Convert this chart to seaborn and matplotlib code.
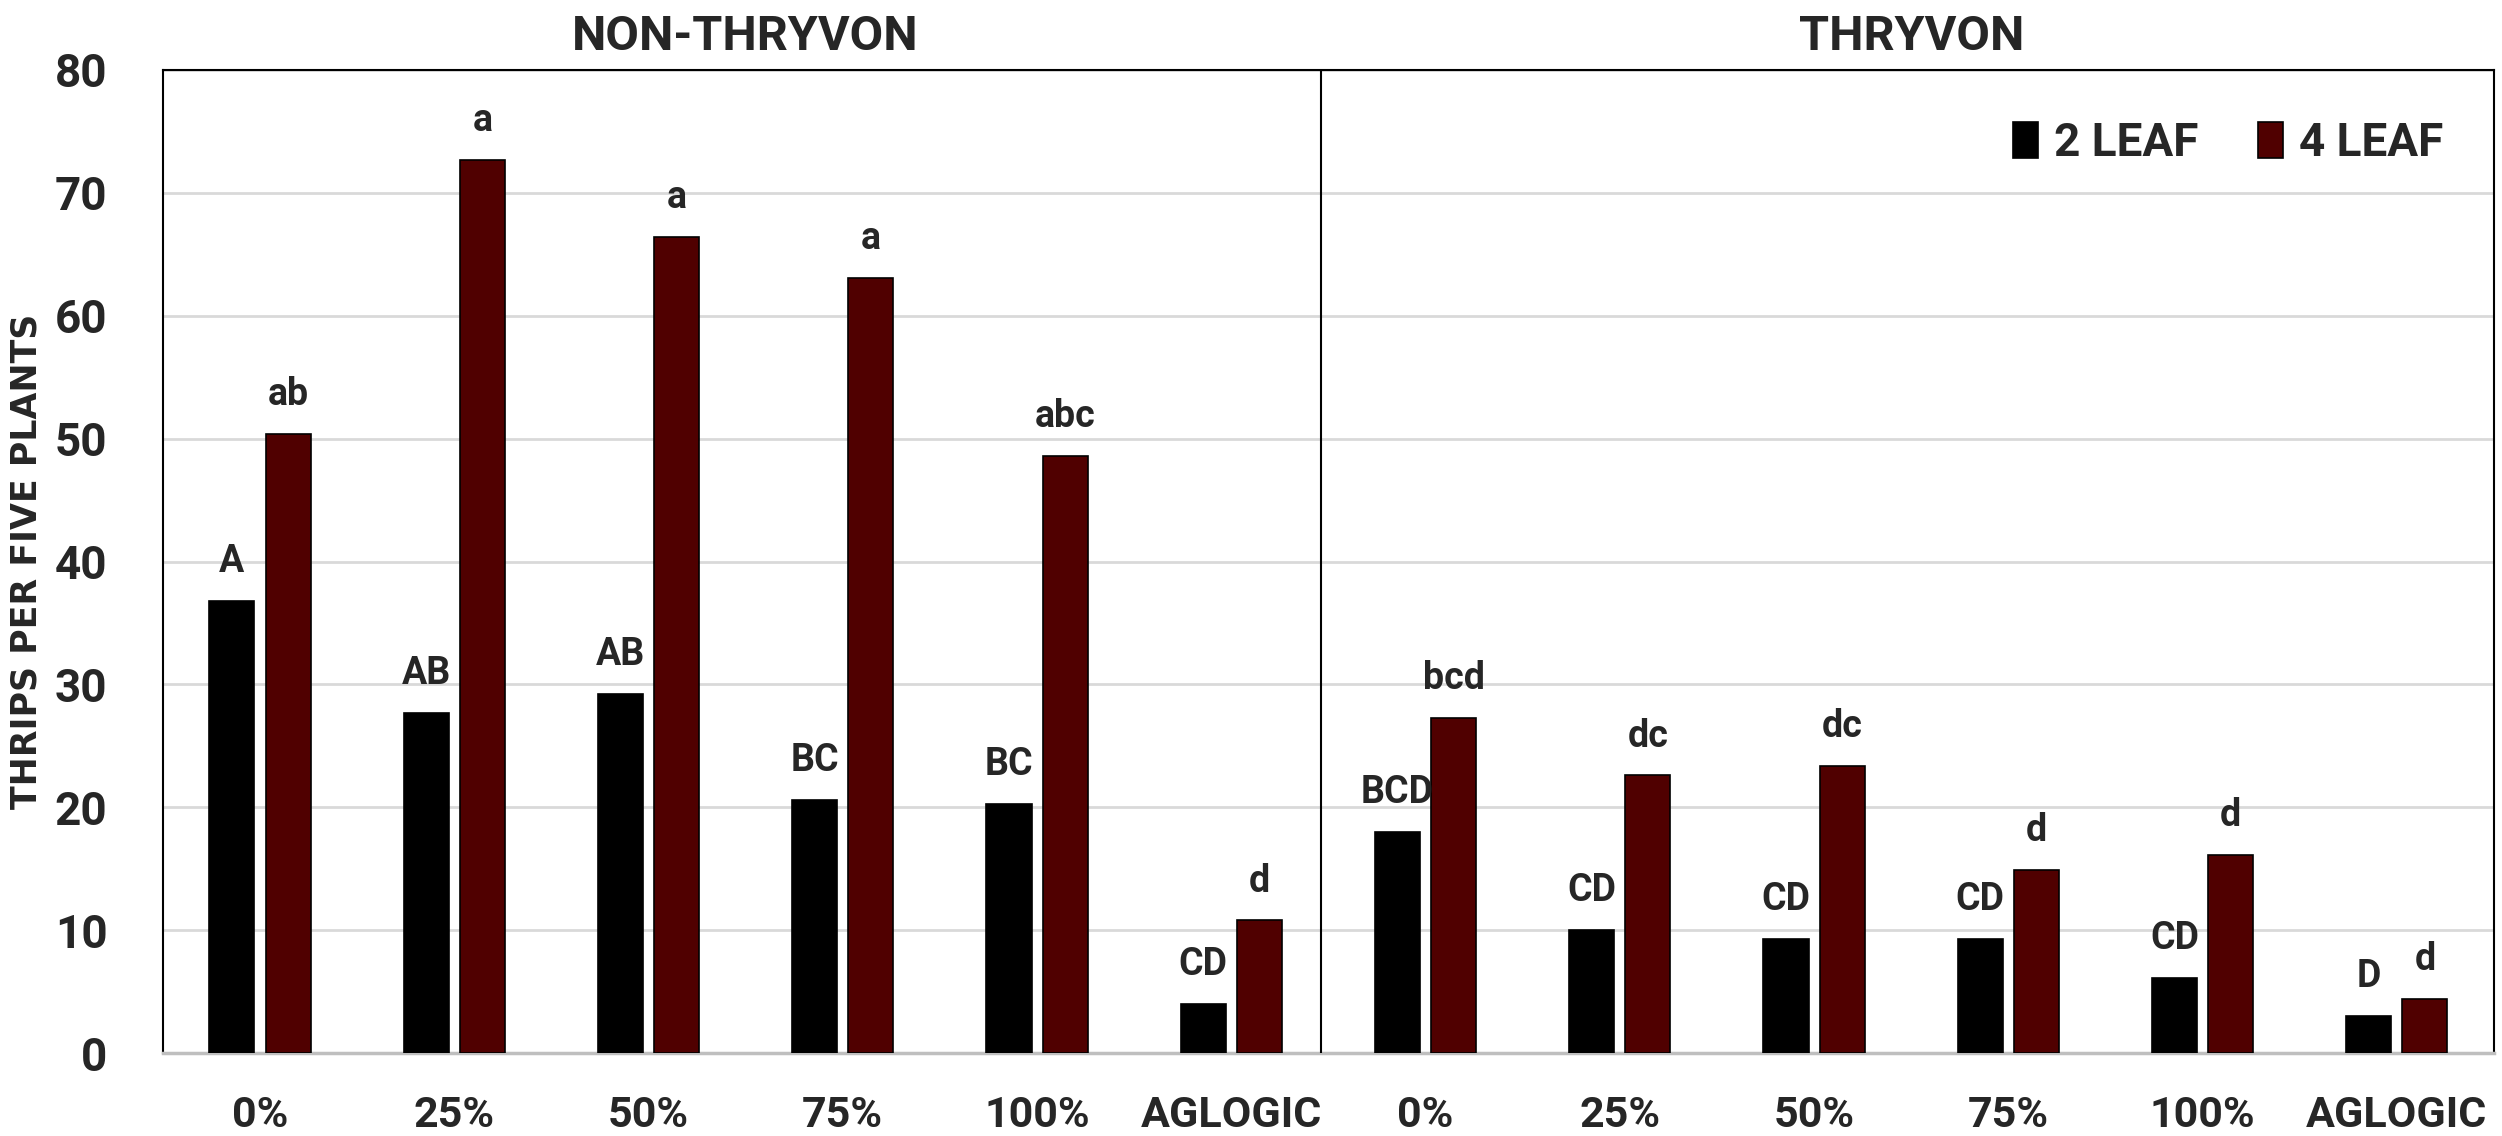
import matplotlib
matplotlib.use("Agg")
import matplotlib.pyplot as plt
import matplotlib.transforms as mtransforms
from matplotlib import font_manager
import seaborn as sns
import pandas as pd

# ---------------- data ----------------
groups = ["NON-THRYVON", "THRYVON"]
treatments = ["0%", "25%", "50%", "75%", "100%", "AGLOGIC"]
series = ["2 LEAF", "4 LEAF"]

non_2leaf = [36.8, 27.7, 29.2, 20.6, 20.3, 4.0]
non_4leaf = [50.4, 72.7, 66.4, 63.1, 48.6, 10.8]
thr_2leaf = [18.0, 10.0, 9.3, 9.3, 6.1, 3.0]
thr_4leaf = [27.3, 22.6, 23.4, 14.9, 16.1, 4.4]

non_2leaf_letters = ["A", "AB", "AB", "BC", "BC", "CD"]
non_4leaf_letters = ["ab", "a", "a", "a", "abc", "d"]
thr_2leaf_letters = ["BCD", "CD", "CD", "CD", "CD", "D"]
thr_4leaf_letters = ["bcd", "dc", "dc", "d", "d", "d"]

yticks = [0, 10, 20, 30, 40, 50, 60, 70, 80]
ylabel = "THRIPS PER FIVE PLANTS"

# ---------------- table ----------------
rows = []
for g, v2, v4 in [(groups[0], non_2leaf, non_4leaf), (groups[1], thr_2leaf, thr_4leaf)]:
    for t, a, b in zip(treatments, v2, v4):
        rows.append({"slot": f"{g}|{t}", "treat": t, "series": series[0], "value": a})
        rows.append({"slot": f"{g}|{t}", "treat": t, "series": series[1], "value": b})
df = pd.DataFrame(rows)
order = [f"{g}|{t}" for g in groups for t in treatments]

# ---------------- fonts ----------------
names = {f.name for f in font_manager.fontManager.ttflist}
narrow = "Liberation Sans Narrow" if "Liberation Sans Narrow" in names else "Roboto"

sns.set_theme(style="white")
plt.rcParams["font.family"] = [narrow, "DejaVu Sans"]
plt.rcParams["font.weight"] = "bold"

fig = plt.figure(figsize=(25.02, 11.36), dpi=100)
ax = fig.add_axes([0.0651, 0.073, 0.9317, 0.8654])

palette = {series[0]: "#000000", series[1]: "#500000"}
sns.barplot(data=df, x="slot", y="value", hue="series", order=order,
            hue_order=series, palette=palette, width=0.578, gap=0.197,
            edgecolor="black", linewidth=1.2, saturation=1, ax=ax, zorder=3)

ax.set_ylim(0, 80)
ax.set_yticks(yticks)
ax.set_xlim(-0.5, len(order) - 0.5)
ax.yaxis.grid(True, color="#D9D9D9", linewidth=2, zorder=0)
ax.set_axisbelow(True)

ax.set_xticks(range(len(order)))
ax.set_xticklabels([o.split("|")[1] for o in order])
ax.tick_params(axis="x", length=0, pad=30, labelsize=31)
ax.tick_params(axis="y", length=0, pad=40, labelsize=33)
for lab in ax.get_xticklabels() + ax.get_yticklabels():
    lab.set_fontweight("bold")

ax.set_xlabel("")
ax.set_ylabel(ylabel, fontsize=25, fontweight="bold", family="DejaVu Sans", labelpad=8)

for side in ["left", "top", "right"]:
    ax.spines[side].set_color("black")
    ax.spines[side].set_linewidth(1.5)
    ax.spines[side].set_visible(True)
ax.spines["bottom"].set_color("#BFBFBF")
ax.spines["bottom"].set_linewidth(2.5)
ax.spines["bottom"].set_visible(True)

# divider between groups
ax.axvline(len(treatments) - 0.54, color="black", linewidth=1.5, zorder=4)

# group titles
trans = mtransforms.blended_transform_factory(ax.transData, ax.transAxes)
for i, g in enumerate(groups):
    center = i * len(treatments) + (len(treatments) - 1) / 2
    ax.text(center, 1.034, g, transform=trans, ha="center", va="center",
            fontsize=35, fontweight="bold")

# letters
letters_by_series = [non_2leaf_letters + thr_2leaf_letters,
                     non_4leaf_letters + thr_4leaf_letters]
for cont, labs in zip(ax.containers, letters_by_series):
    ax.bar_label(cont, labels=labs, padding=15, fontsize=27, fontweight="bold")

# legend
handles, labels = ax.get_legend_handles_labels()
leg = ax.legend(handles, labels, ncol=2, loc="upper right", frameon=False,
                bbox_to_anchor=(0.996, 0.99), fontsize=33, handlelength=0.55,
                handleheight=0.85, handletextpad=0.35, columnspacing=1.3)
for t in leg.get_texts():
    t.set_fontweight("bold")

fig.savefig("out.png", dpi=100)
